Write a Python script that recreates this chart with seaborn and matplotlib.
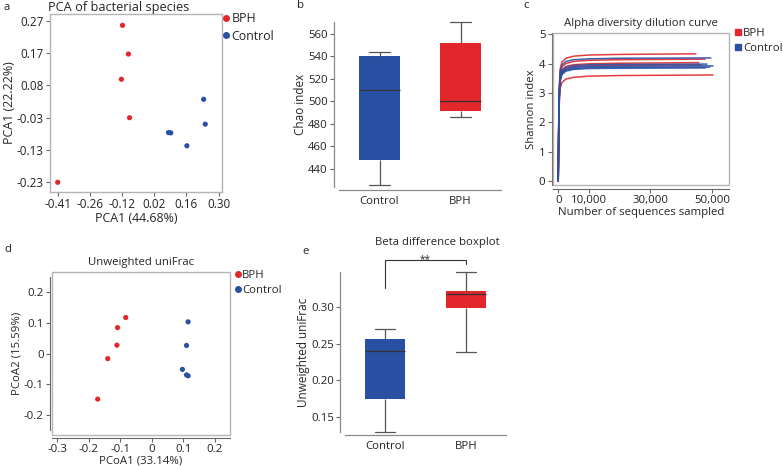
import matplotlib
matplotlib.use("Agg")
import matplotlib.pyplot as plt
from matplotlib.lines import Line2D
from matplotlib.patches import Rectangle
import pandas as pd
import seaborn as sns

W, H = 783, 466
RED = "#e3262b"
BLUE = "#2a50a3"
FRAME = "#b4b4b4"
TICK = "#666666"
FS = 8.2     # most panels
FS_A = 8.9   # panel a is set a touch larger

# ---- a: PCA of bacterial species
PCA_GROUP = ["BPH"] * 5 + ["Control"] * 5
PCA_X = [-0.124, -0.098, -0.129, -0.093, -0.410, 0.234, 0.241, 0.079, 0.089, 0.160]
PCA_Y = [0.256, 0.167, 0.089, -0.030, -0.230, 0.027, -0.050, -0.076, -0.077, -0.117]
PCA_XTICKS = [-0.41, -0.268, -0.126, 0.016, 0.158, 0.30]
PCA_XLABELS = ["-0.41", "-0.26", "-0.12", "0.02", "0.16", "0.30"]
PCA_YTICKS = [-0.23, -0.13, -0.03, 0.07, 0.17, 0.27]
PCA_YLABELS = ["-0.23", "-0.13", "-0.03", "0.08", "0.17", "0.27"]

# ---- b: Chao index (five samples per group)
GROUPS = ["Control", "BPH"]
CHAO_CONTROL = [425.7, 447.4, 509.5, 540.1, 543.4]
CHAO_BPH = [486.0, 491.7, 500.6, 551.4, 570.1]

# ---- c: rarefaction curves (Shannon index vs sequences sampled)
DEPTHS = [0, 250, 600, 1200, 2500, 5000, 10000, 20000]
CURVE_GROUP = ["BPH"] * 5 + ["Control"] * 5
CURVE_END = [44800, 47800, 45800, 50400, 46500, 49700, 48400, 50400, 49400, 48000]
CURVES = [
    [0, 2.9, 3.80, 4.05, 4.18, 4.25, 4.29, 4.31, 4.33],
    [0, 2.8, 3.65, 3.88, 4.00, 4.07, 4.11, 4.13, 4.15],
    [0, 2.7, 3.55, 3.78, 3.90, 3.96, 3.99, 4.01, 4.03],
    [0, 2.4, 3.15, 3.35, 3.47, 3.53, 3.57, 3.59, 3.61],
    [0, 2.7, 3.50, 3.72, 3.83, 3.89, 3.92, 3.94, 3.95],
    [0, 2.8, 3.70, 3.95, 4.07, 4.13, 4.16, 4.18, 4.19],
    [0, 2.7, 3.50, 3.75, 3.87, 3.93, 3.96, 3.97, 3.98],
    [0, 2.7, 3.45, 3.70, 3.81, 3.87, 3.90, 3.91, 3.92],
    [0, 2.6, 3.40, 3.65, 3.77, 3.83, 3.86, 3.87, 3.88],
    [0, 2.6, 3.38, 3.62, 3.74, 3.80, 3.83, 3.84, 3.85],
]
C_XTICKS = [0, 10000, 30000, 50000]
C_XLABELS = ["0", "10,000", "30,000", "50,000"]

# ---- d: PCoA unweighted uniFrac
PCOA_GROUP = ["BPH"] * 5 + ["Control"] * 5
PCOA_X = [-0.083, -0.109, -0.111, -0.140, -0.172, 0.115, 0.110, 0.097, 0.110, 0.115]
PCOA_Y = [0.118, 0.085, 0.028, -0.016, -0.148, 0.104, 0.027, -0.051, -0.069, -0.072]

# ---- e: beta diversity boxplot
BETA_CONTROL = [0.1295, 0.175, 0.2403, 0.2567, 0.2708]
BETA_BPH = [0.2389, 0.2995, 0.3187, 0.3219, 0.3483]

PALETTE = {"BPH": RED, "Control": BLUE}


def px_axes(fig, x0, y0, x1, y1):
    return fig.add_axes([x0 / W, 1 - y1 / H, (x1 - x0) / W, (y1 - y0) / H])


def style_ticks(ax, size=FS):
    ax.tick_params(length=3, width=0.8, color=TICK, labelsize=size, pad=1.5,
                   labelcolor="#222222")


def framed(ax, offset_left=0, offset_bottom=0, size=FS):
    for side in ["top", "right", "left", "bottom"]:
        ax.spines[side].set_color(FRAME)
        ax.spines[side].set_linewidth(1.0)
    if offset_left or offset_bottom:
        ax.add_patch(Rectangle((0, 0), 1, 1, transform=ax.transAxes, fill=False,
                               ec=FRAME, lw=1.0, clip_on=False, zorder=5))
        ax.spines["top"].set_visible(False)
        ax.spines["right"].set_visible(False)
        ax.spines["left"].set_position(("outward", offset_left))
        ax.spines["bottom"].set_position(("outward", offset_bottom))
        ax.spines["left"].set_color(TICK)
        ax.spines["bottom"].set_color(TICK)
        ax.spines["left"].set_linewidth(0.8)
        ax.spines["bottom"].set_linewidth(0.8)
    style_ticks(ax, size)


def dot_legend(ax, marker, x, y, size=FS):
    handles = [Line2D([], [], ls="none", marker=marker, ms=4 if marker == "o" else 5,
                      color=PALETTE[g]) for g in ["BPH", "Control"]]
    ax.legend(handles, ["BPH", "Control"], loc="upper left", bbox_to_anchor=(x, y),
              frameon=False, handletextpad=0.05, handlelength=0.7, borderaxespad=0,
              borderpad=0, labelspacing=0.35, fontsize=size)


def box_panel(ax, control, bph):
    df = pd.DataFrame({"group": ["Control"] * len(control) + ["BPH"] * len(bph),
                       "value": control + bph})
    sns.boxplot(data=df, x="group", y="value", hue="group", order=GROUPS,
                palette=PALETTE, width=0.5, linewidth=0.9, linecolor="#555555",
                saturation=1, legend=False, whis=(0, 100), ax=ax,
                boxprops=dict(edgecolor="none"),
                medianprops=dict(color="#333333", linewidth=0.9),
                whiskerprops=dict(clip_on=False), capprops=dict(clip_on=False))
    sns.despine(ax=ax)
    ax.spines["left"].set_position(("outward", 3.5))
    ax.spines["bottom"].set_position(("outward", 2.5))
    for side in ["left", "bottom"]:
        ax.spines[side].set_color("#8a8a8a")
        ax.spines[side].set_linewidth(0.9)
    ax.set_xlim(-0.5, 1.5)
    ax.set_xlabel("")
    style_ticks(ax)
    ax.tick_params(axis="x", length=0, pad=4)


sns.set_theme(style="ticks")
plt.rcParams["font.family"] = ["Open Sans", "DejaVu Sans"]

fig = plt.figure(figsize=(W / 100, H / 100), dpi=100)

# a
ax = px_axes(fig, 50, 14, 222, 192)
sns.scatterplot(x=PCA_X, y=PCA_Y, hue=PCA_GROUP, palette=PALETTE, s=14,
                linewidth=0, legend=False, ax=ax)
ax.set_xlim(-0.444, 0.315)
ax.set_ylim(-0.26, 0.291)
ax.set_xticks(PCA_XTICKS, PCA_XLABELS)
ax.set_yticks(PCA_YTICKS, PCA_YLABELS)
framed(ax, size=8.4)
ax.set_xlabel("PCA1 (44.68%)", fontsize=FS_A, labelpad=0.5)
ax.set_ylabel("PCA1 (22.22%)", fontsize=FS_A, labelpad=0.5)
dot_legend(ax, "o", 1.0, 1.01, size=FS_A)
fig.text(119 / W, 1 - 7 / H, "PCA of bacterial species", ha="center", va="center",
         fontsize=FS_A + 0.3)

# b
ax = px_axes(fig, 339, 22, 501, 187)
box_panel(ax, CHAO_CONTROL, CHAO_BPH)
ax.set_ylim(423.7, 570.4)
ax.set_yticks([440, 460, 480, 500, 520, 540, 560])
ax.set_ylabel("Chao index", fontsize=FS + 0.3, labelpad=1)

# c
ax = px_axes(fig, 553, 33, 729, 185)
rows = []
for i, (g, end, vals) in enumerate(zip(CURVE_GROUP, CURVE_END, CURVES)):
    for d, v in zip(DEPTHS + [end], vals):
        rows.append({"sample": i, "group": g, "depth": d, "shannon": v})
curves = pd.DataFrame(rows)
sns.lineplot(data=curves, x="depth", y="shannon", hue="group", units="sample",
             estimator=None, palette=PALETTE, linewidth=1.1, alpha=0.9,
             legend=False, ax=ax)
ax.set_xlim(-1700, 55600)
ax.set_ylim(-0.14, 5.04)
ax.set_xticks(C_XTICKS, C_XLABELS)
ax.set_yticks([0, 1, 2, 3, 4, 5])
framed(ax, offset_left=1, offset_bottom=3)
ax.set_xlabel("Number of sequences sampled", fontsize=FS, labelpad=0.5)
ax.set_ylabel("Shannon index", fontsize=FS, labelpad=1)
ax.set_title("Alpha diversity dilution curve", fontsize=FS, pad=5)
dot_legend(ax, "s", 1.03, 1.03)

# d
ax = px_axes(fig, 52, 272, 230, 435)
sns.scatterplot(x=PCOA_X, y=PCOA_Y, hue=PCOA_GROUP, palette=PALETTE, s=14,
                linewidth=0, legend=False, ax=ax)
ax.set_xlim(-0.317, 0.248)
ax.set_ylim(-0.265, 0.2665)
ax.set_xticks([-0.3, -0.2, -0.1, 0, 0.1, 0.2], ["-0.3", "-0.2", "-0.1", "0", "0.1", "0.2"])
ax.set_yticks([-0.2, -0.1, 0, 0.1, 0.2], ["-0.2", "-0.1", "0", "0.1", "0.2"])
framed(ax, offset_left=1.5, offset_bottom=2)
ax.spines["left"].set_bounds(-0.25, 0.25)
ax.set_xlabel("PCoA1 (33.14%)", fontsize=FS, labelpad=0)
ax.set_ylabel("PCoA2 (15.59%)", fontsize=FS, labelpad=1)
ax.set_title("Unweighted uniFrac", fontsize=FS, pad=5)
dot_legend(ax, "o", 1.02, 1.01)

# e
ax = px_axes(fig, 345, 272, 506, 432)
box_panel(ax, BETA_CONTROL, BETA_BPH)
ax.set_ylim(0.1295, 0.3483)
ax.set_yticks([0.15, 0.20, 0.25, 0.30], ["0.15", "0.20", "0.25", "0.30"])
ax.set_ylabel("Unweighted uniFrac", fontsize=FS + 0.3, labelpad=1)
ax.plot([0, 0, 1, 1], [0.3265, 0.3652, 0.3652, 0.3594], color="#333333", lw=0.8,
        clip_on=False)
ax.text(0.5, 0.3625, "**", ha="center", va="baseline", fontsize=FS - 1)
fig.text(437 / W, 1 - 243 / H, "Beta difference boxplot", ha="center", va="center",
         fontsize=FS)

# panel letters
for lab, x, y in [("a", 4, 7), ("b", 297, 6), ("c", 523, 6), ("d", 4, 250), ("e", 302, 251)]:
    fig.text(x / W, 1 - y / H, lab, ha="left", va="center", fontsize=FS)

fig.savefig("out.png", dpi=100)
